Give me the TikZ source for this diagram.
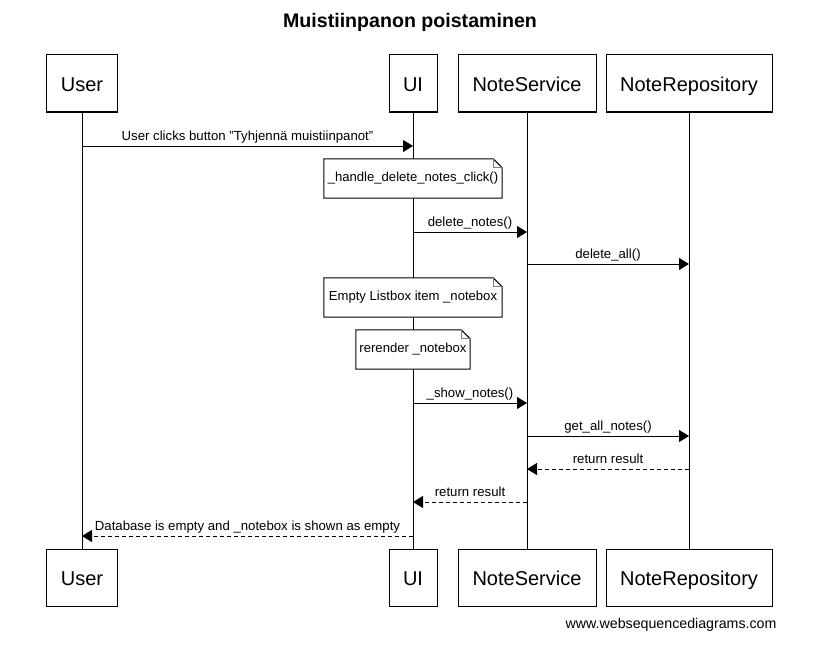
\documentclass[tikz,border=0pt]{standalone}
\usepackage{fontspec}
\setmainfont{Liberation Sans}
\usetikzlibrary{arrows.meta, positioning, calc}

\tikzset{
  actor/.style={draw, line width=1pt, fill=white, minimum height=57pt, inner sep=0pt,
    text height=16pt, text depth=0pt, font=\fontsize{20}{24}\selectfont},
  lifeline/.style={line width=1pt},
  call/.style={line width=1pt, -{Triangle[length=10pt,width=12pt]}},
  reply/.style={call, dash pattern=on 4pt off 3pt},
  msglabel/.style={above, inner sep=2pt, text height=9.5pt, text depth=3pt, font=\fontsize{13.2}{16}\selectfont},
  notetext/.style={fill=white, minimum height=39pt, inner sep=0pt, font=\fontsize{13.1}{16}\selectfont},
}

% outline of a note with a folded corner
\newcommand{\notebox}[1]{%
  \draw[line width=1pt] (#1.south west) -- (#1.north west) -- ([xshift=-9pt]#1.north east)
    -- ([yshift=-9pt]#1.north east) -- (#1.south east) -- cycle;
  \draw[gray, line width=0.8pt] ([xshift=-9pt]#1.north east) -- ([xshift=-9pt,yshift=-9pt]#1.north east)
    -- ([yshift=-9pt]#1.north east);
}

\begin{document}
\begin{tikzpicture}[x=1pt, y=-1pt]
    \useasboundingbox (0,0) rectangle (826,666);

    % Title
    \node[font=\bfseries\fontsize{19.6}{24}\selectfont] (title) at (410,22) {Muistiinpanon poistaminen};

    % Participants
    \node[actor, minimum width=71pt] (user) at (82,83.5) {User};
    \node[actor, minimum width=48pt] (ui) at (413,83.5) {UI};
    \node[actor, minimum width=138pt] (service) at (527,83.5) {NoteService};
    \node[actor, minimum width=166pt] (repo) at (689,83.5) {NoteRepository};

    \node[actor, minimum width=71pt] (userB) at (82,577.5) {User};
    \node[actor, minimum width=48pt] (uiB) at (413,577.5) {UI};
    \node[actor, minimum width=138pt] (serviceB) at (527,577.5) {NoteService};
    \node[actor, minimum width=166pt] (repoB) at (689,577.5) {NoteRepository};

    % Lifelines
    \draw[lifeline] (user) -- (userB);
    \draw[lifeline] (ui) -- (uiB);
    \draw[lifeline] (service) -- (serviceB);
    \draw[lifeline] (repo) -- (repoB);

    % Messages
    \draw[call] (user |- 0,146) -- (ui |- 0,146)
        node[msglabel, midway] {User clicks button \symbol{34}Tyhjennä muistiinpanot\symbol{34}};

    \node[notetext, minimum width=178pt] (note1) at (413,178.5) {\_handle\_delete\_notes\_click()};
    \notebox{note1}

    \draw[call] (ui |- 0,232) -- (service |- 0,232) node[msglabel, midway] {delete\_notes()};
    \draw[call] (service |- 0,264) -- (repo |- 0,264) node[msglabel, midway] {delete\_all()};

    \node[notetext, minimum width=178pt] (note2) at (413,297.5) {Empty Listbox item \_notebox};
    \notebox{note2}
    \node[notetext, minimum width=114pt] (note3) at (413,349.5) {rerender \_notebox};
    \notebox{note3}

    \draw[call] (ui |- 0,403) -- (service |- 0,403) node[msglabel, midway] {\_show\_notes()};
    \draw[call] (service |- 0,436) -- (repo |- 0,436) node[msglabel, midway] {get\_all\_notes()};
    \draw[reply] (repo |- 0,469) -- (service |- 0,469) node[msglabel, midway] {return result};
    \draw[reply] (service |- 0,502) -- (ui |- 0,502) node[msglabel, midway] {return result};
    \draw[reply] (ui |- 0,536) -- (user |- 0,536)
        node[msglabel, midway] {Database is empty and \_notebox is shown as empty};

    % Footer
    \node[anchor=east, font=\fontsize{14.2}{17}\selectfont] (footer) at (780,625) {www.websequencediagrams.com};
\end{tikzpicture}
\end{document}
